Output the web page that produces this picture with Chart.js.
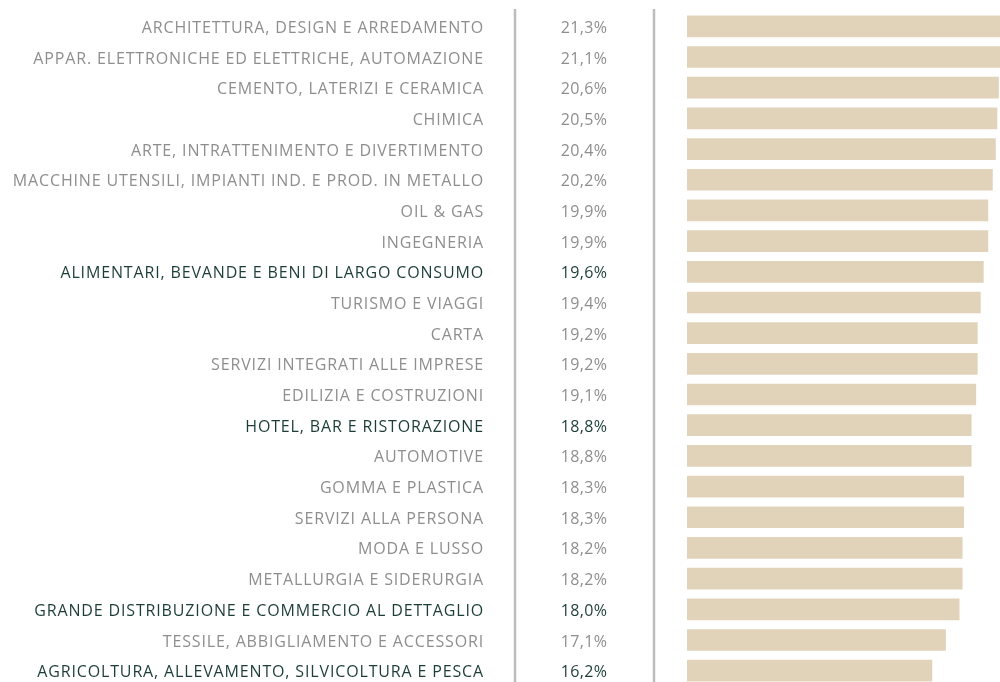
<!DOCTYPE html>
<html>
<head>
<meta charset="utf-8">
<script src="https://cdn.jsdelivr.net/npm/chart.js@4"></script>
<style>
    html, body { margin: 0; padding: 0; background: #fff; overflow: hidden; }
    #wrap { width: 1000px; height: 690px; position: relative; }
</style>
</head>
<body>
<div id="wrap"><canvas id="myChart"></canvas></div>
<script>
// categories (top to bottom)
var settori = [
    'ARCHITETTURA, DESIGN E ARREDAMENTO',
    'APPAR. ELETTRONICHE ED ELETTRICHE, AUTOMAZIONE',
    'CEMENTO, LATERIZI E CERAMICA',
    'CHIMICA',
    'ARTE, INTRATTENIMENTO E DIVERTIMENTO',
    'MACCHINE UTENSILI, IMPIANTI IND. E PROD. IN METALLO',
    'OIL & GAS',
    'INGEGNERIA',
    'ALIMENTARI, BEVANDE E BENI DI LARGO CONSUMO',
    'TURISMO E VIAGGI',
    'CARTA',
    'SERVIZI INTEGRATI ALLE IMPRESE',
    'EDILIZIA E COSTRUZIONI',
    'HOTEL, BAR E RISTORAZIONE',
    'AUTOMOTIVE',
    'GOMMA E PLASTICA',
    'SERVIZI ALLA PERSONA',
    'MODA E LUSSO',
    'METALLURGIA E SIDERURGIA',
    'GRANDE DISTRIBUZIONE E COMMERCIO AL DETTAGLIO',
    'TESSILE, ABBIGLIAMENTO E ACCESSORI',
    'AGRICOLTURA, ALLEVAMENTO, SILVICOLTURA E PESCA'
];
// percentages
var valori = [21.3, 21.1, 20.6, 20.5, 20.4, 20.2, 19.9, 19.9, 19.6, 19.4, 19.2,
    19.2, 19.1, 18.8, 18.8, 18.3, 18.3, 18.2, 18.2, 18.0, 17.1, 16.2];
// rows shown in dark green
var evidenziati = [
    'ALIMENTARI, BEVANDE E BENI DI LARGO CONSUMO',
    'HOTEL, BAR E RISTORAZIONE',
    'GRANDE DISTRIBUZIONE E COMMERCIO AL DETTAGLIO',
    'AGRICOLTURA, ALLEVAMENTO, SILVICOLTURA E PESCA'
];

var GREY = '#8e8e8e';
var GREEN = '#1c3d38';
var FONT = '"Open Sans"';

function colore(i) {
    return evidenziati.indexOf(settori[i]) >= 0 ? GREEN : GREY;
}

// category names, value column and the two grey separators
var colonne = {
    id: 'colonne',
    afterDraw: function (chart) {
        var c = chart.ctx;
        var area = chart.chartArea;
        var y = chart.scales.y;
        c.save();
        c.strokeStyle = '#bdbdbd';
        c.lineWidth = 2.5;
        [area.left - 172, area.left - 33].forEach(function (x) {
            c.beginPath();
            c.moveTo(x, 9);
            c.lineTo(x, chart.height);
            c.stroke();
        });
        c.font = '16px ' + FONT;
        c.textBaseline = 'middle';
        settori.forEach(function (s, i) {
            var py = y.getPixelForValue(i) + 2;
            c.fillStyle = colore(i);
            c.letterSpacing = '0.85px';
            c.textAlign = 'right';
            c.fillText(s, area.left - 203, py);
            c.letterSpacing = '0.3px';
            c.textAlign = 'center';
            c.fillText(valori[i].toFixed(1).replace('.', ',') + '%', area.left - 103, py);
        });
        c.restore();
    }
};

var ctx = document.getElementById('myChart').getContext('2d');
var chart = new Chart(ctx, {
    type: 'bar',
    data: {
        labels: settori,
        datasets: [{
            data: valori,
            backgroundColor: '#e1d3b9',
            barThickness: 21
        }]
    },
    options: {
        indexAxis: 'y',
        responsive: true,
        maintainAspectRatio: false,
        animation: false,
        layout: { padding: { top: 11, right: 0, bottom: 4, left: 0 } },
        plugins: {
            legend: { display: false },
            tooltip: { enabled: false }
        },
        scales: {
            x: {
                display: false,
                min: 0,
                max: 20.7
            },
            y: {
                grid: { display: false },
                border: { display: false },
                ticks: { display: false },
                afterFit: function (scale) { scale.width = 687; }
            }
        }
    },
    plugins: [colonne]
});
</script>
</body>
</html>
